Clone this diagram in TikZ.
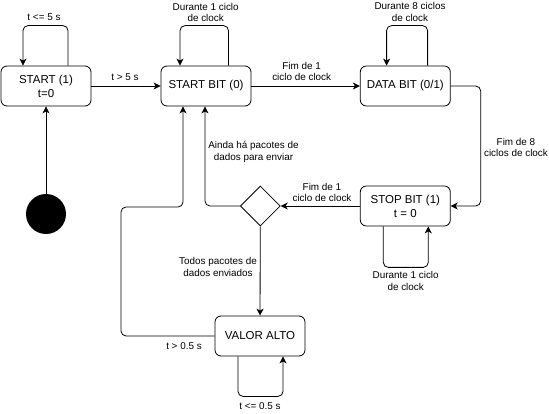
\documentclass[tikz,border=0pt]{standalone}
\usepackage{fontspec}
\setmainfont{Liberation Sans}
\usetikzlibrary{arrows.meta,calc,shapes.geometric}
\begin{document}
\begin{tikzpicture}[x=1pt,y=-1pt,
 state/.style={draw,rounded corners=6pt,minimum width=90pt,minimum height=40pt,font=\fontsize{11.5}{14}\selectfont,align=center,inner sep=0pt,line width=0.8pt},
 lbl/.style={font=\fontsize{9.9}{11.8}\selectfont,align=center,inner sep=0pt},
 edge/.style={draw,line width=0.8pt,rounded corners=5pt,-{Stealth[length=7pt,width=7pt,inset=2pt]}}]
\useasboundingbox (0,0) rectangle (549,414);
% states
\node[state] (s) at (46,86) {START (1)\\t=0};
\node[state] (sb) at (206,86) {START BIT (0)};
\node[state] (db) at (405.3,86) {DATA BIT (0/1)};
\node[state] (stop) at (405.3,206) {STOP BIT (1)\\t = 0};
\node[state] (va) at (260,336) {VALOR ALTO};
\node[draw,diamond,aspect=1,minimum width=40pt,minimum height=40pt,inner sep=0pt,line width=0.8pt] (dec) at (260.3,206) {};
\node[circle,fill=black,minimum size=40pt,inner sep=0pt] (init) at (46,214) {};
% labels
\node[lbl] (l1) at (44,17) {t <= 5 s};
\node[lbl] (l2) at (125,77) {t > 5 s};
\node[lbl] (l3) at (205.7,12.5) {Durante 1 ciclo\\de clock};
\node[lbl] (l4) at (410,12) {Durante 8 ciclos\\de clock};
\node[lbl] (l5) at (301.7,71.5) {Fim de 1\\ciclo de clock};
\node[lbl] (l6) at (516,147.5) {Fim de 8\\ciclos de clock};
\node[lbl] (l7) at (253.5,152) {Ainda há pacotes de\\dados para enviar};
\node[lbl] (l8) at (322,192.5) {Fim de 1\\ciclo de clock};
\node[lbl] (l9) at (405.7,281) {Durante 1 ciclo\\de clock};
\node[lbl] (l10) at (218,267) {Todos pacotes de\\dados enviados};
\node[lbl] (l11) at (184,346) {t > 0.5 s};
\node[lbl] (l12) at (260,406) {t <= 0.5 s};
% connectors
\draw[edge] (init) -- (s);
\draw[edge] (s) -- (sb);
\draw[edge] (sb) -- (db);
\draw[edge] (db.east) -- ++(30,0) |- (stop.east);
\draw[edge] (stop) -- (dec);
\draw[edge] (dec.west) -| ($(sb.south)+(-1,0)$);
\draw[edge] (dec) -- (va);
\draw[edge] (va.west) -| (121,207) -| ($(sb.south)+(-23,0)$);
% self loops
\draw[edge] ($(s.north)+(22,0)$) -- ++(0,-40) -| ($(s.north)+(-23,0)$);
\draw[edge] ($(sb.north)+(22.5,0)$) -- ++(0,-40) -| ($(sb.north)+(-26,0)$);
\draw[edge] ($(db.north)+(22.3,0)$) -- ++(0,-40) -| ($(db.north)+(-18.7,0)$);
\draw[edge] ($(stop.south)+(-22,0)$) -- ++(0,41) -| ($(stop.south)+(23,0)$);
\draw[edge] ($(va.south)+(-22,0)$) -- ++(0,40) -| ($(va.south)+(23,0)$);
\end{tikzpicture}
\end{document}
